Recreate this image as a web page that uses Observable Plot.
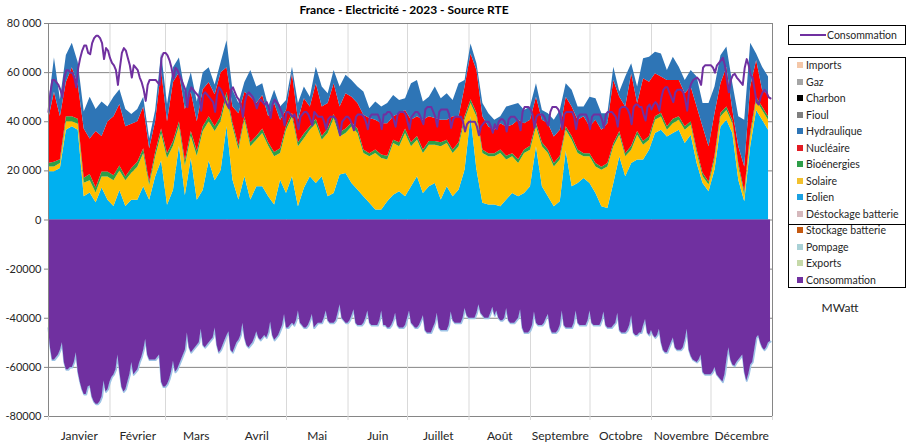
<!DOCTYPE html>
<html><head><meta charset="utf-8">
<script src="https://cdn.jsdelivr.net/npm/d3@7"></script>
<script src="https://cdn.jsdelivr.net/npm/@observablehq/plot@0.6"></script>
<style>
body{margin:0;background:#fff;font-family:Lato,"Open Sans",sans-serif;color:#262626;}
#wrap{position:relative;width:913px;height:447px;overflow:hidden;}
#chart{position:absolute;left:0;top:0;}
#title{position:absolute;top:2px;left:0;width:808px;text-align:center;font-weight:bold;font-size:12px;color:#000;}
.box{position:absolute;border:1px solid #000;background:#fff;box-sizing:border-box;}
.item{position:absolute;left:0;height:16px;line-height:16px;font-size:10.5px;white-space:nowrap;}
.sw{position:absolute;left:8px;top:5px;width:6px;height:6px;}
.lab{position:absolute;left:17px;top:0;}
#unit{position:absolute;left:810px;top:300px;width:60px;text-align:center;font-size:12px;}
</style></head><body>
<div id="wrap">
<div id="chart"></div>
<div id="title">France - Electricité - 2023 - Source RTE</div>
<div class="box" id="leg1" style="left:788px;top:25px;width:118px;height:20px;"></div>
<div class="box" id="leg2" style="left:788px;top:57px;width:118px;height:231px;"></div>
<div id="unit">MWatt</div>
</div>
<script>
// ---- Data ----
const months = ["Janvier","Février","Mars","Avril","Mai","Juin","Juillet","Août","Septembre","Octobre","Novembre","Décembre"];
const monthStarts = [0,31,59,90,120,151,181,212,243,273,304,334,365];
const yTicks = [-80000,-60000,-40000,-20000,0,20000,40000,60000,80000];

// production series sampled every 3 days (day index 0 = 1 janvier)
const days3 = d3.range(0, 364, 3);
const eolien = [
19600,19600,21000,36500,38000,36500,9500,11000,7000,13000,
8000,5500,12000,5500,8000,8000,13500,8000,17500,24000,
6000,12000,30000,10000,25000,8000,12000,24000,16000,20000,
38000,16200,8100,17600,8100,13500,13500,9500,6100,16200,
10800,17600,5400,12900,17600,14900,17600,9500,10800,18300,
18900,14900,12200,9500,6800,4100,4100,7400,10100,11500,
9500,13500,17600,10800,13500,14900,8100,13500,9500,12200,
20300,42000,20300,6800,6100,6100,5400,8100,10800,9500,
10800,13500,29800,13500,9500,5400,7400,28000,13500,14900,
16900,14900,10800,5400,4700,14900,25700,17600,23000,24400,
24400,28400,35200,36500,33800,35200,36500,31100,34500,23000,
14900,11500,20300,37900,40600,35200,16200,7400,29800,44600,
40600,36500];
const solaire = [
2000,2000,2000,3500,2000,2500,5500,5000,4000,4500,
9500,10500,8000,10500,11000,13500,13500,6000,8000,11000,
19000,18000,8000,12000,9000,18000,24000,16000,20000,20000,
12000,21700,20300,23000,21700,19000,21700,20500,19600,10900,
25700,24300,24400,20200,18900,24300,14900,25700,30500,15500,
16300,23000,23000,17600,18900,23000,20900,17000,21000,18300,
25700,16300,14900,16300,16900,15500,21700,17600,17600,17600,
20300,5400,21600,20300,19600,19600,21700,16300,14900,13500,
16300,14900,8100,16300,17600,16200,17000,8500,19000,12200,
8800,10800,10800,14900,16900,14900,8800,8100,5400,10100,
6000,4100,5400,5400,2700,4000,4100,5400,4100,4100,
2700,2700,4100,4000,4000,4000,5400,2700,4000,4100,
4000,4100];
const bioenergies = [
1400,1900,1500,2000,2000,2000,2000,2500,2000,2000,
2000,2000,2000,1500,2000,2000,2000,1500,2000,2000,
2000,2000,2000,2000,2000,2000,2000,2000,2000,2000,
2000,1600,1600,1400,1700,1500,1800,1500,1800,1900,
1500,1600,1700,1900,1500,1800,1500,1800,1700,1700,
1800,1600,1800,1400,1300,1400,1500,1600,1400,1700,
1800,1700,1500,1400,1600,1600,1700,1400,1400,1700,
1400,1600,1600,1400,1300,1300,1400,1600,1300,1500,
1400,1600,1600,1700,1400,1400,1600,1500,1500,1400,
1300,1300,1400,1200,1400,1200,1500,1300,1600,1500,
1600,1500,1400,1600,1500,1800,1400,1500,1400,1400,
1400,1300,1600,1600,1400,1300,1400,1400,1700,1300,
1400,1400];
const nucleaire = [
17600,28500,17500,14000,20000,14000,20000,14500,23000,14500,
20500,24000,25000,20500,18000,16500,17000,13500,12500,24000,
13000,24000,20000,21000,16000,12000,15000,14000,13000,18000,
10000,6500,13300,10000,18500,13400,13700,10500,19900,11600,
6600,16000,9100,14400,8000,14500,12000,10400,12500,10500,
14400,10500,10400,14100,14300,12100,12700,13200,9500,11800,
7600,9100,8000,12100,10000,9300,9100,8100,13500,10500,
12100,18600,17400,13500,10900,9500,10700,11900,11600,16100,
10700,10600,10500,9100,10700,10800,10500,12000,12000,12100,
15000,10900,17600,15000,16200,25800,14000,19000,29500,11400,
25500,22100,17500,14700,18800,15800,14800,13400,14100,17500,
18900,14300,17300,12000,16200,4100,6800,10100,18600,14900,
6800,8700];
const hydraulique = [
5400,14000,7000,11000,10000,9000,7000,17000,9000,14000,
6000,8000,6000,7000,4000,5000,4000,4000,4500,7000,
7000,6000,6000,7000,8000,8000,7000,6000,4000,4000,
11000,6800,4100,4000,10900,6700,4800,4000,5400,5400,
4100,2700,6800,4700,4000,6700,8100,4000,5400,8100,
7500,6800,6700,9500,4000,7400,6800,8200,8700,5400,
4800,14900,14800,7400,8000,12800,8800,10800,6700,13500,
2700,4100,2700,5400,5400,4100,2800,8100,8100,6800,
5400,5400,5500,4000,4100,6800,8100,5500,6800,5400,
4000,12100,8800,6800,4100,5400,2100,12200,4100,6700,
8100,10200,8800,9400,4100,9500,5400,5400,6800,12200,
9500,17600,10800,11400,8200,10900,12200,19000,17900,2700,
9400,7500];

// daily consumption (MW), 1 janvier -> 31 décembre
const consommation = [
44000,52000,57000,57000,56000,55000,53000,
50000,58000,61000,61000,60000,60000,58000,
54000,62000,66000,69000,71000,71000,68000,
67500,72000,74000,75000,75000,74000,72000,
65500,70000,69000,66000,64000,63000,61000,
55000,62000,68000,70000,69000,66000,63000,
58000,63000,62000,61000,58000,56000,53000,
48500,55000,57000,57000,57000,57000,56000,
55000,66000,68000,68000,67000,65000,62000,
57500,62000,61000,59000,57000,55000,53000,
46000,52000,54000,53000,52000,51000,50000,
44500,51000,52000,51000,50000,49000,48000,
44000,51000,54000,53000,51000,49000,47000,
45500,53000,54000,52000,50000,49000,47000,
42000,48000,51000,52000,51000,50000,48000,
45500,48000,49000,48000,47000,48000,46000,
41500,47000,49000,48000,47000,45000,43000,
38500,44000,44000,43000,42000,43000,41000,
37000,42000,43000,44000,44000,43000,41000,
38500,44000,43000,42000,42000,42000,40000,
37000,41000,42000,42000,42000,41000,38000,
34500,40000,41000,42000,42000,41000,39000,
36500,42000,43000,43000,43000,42000,40000,
37000,42000,43000,43000,43000,43000,41000,
37000,43000,43000,44000,44000,43000,41000,
38000,43000,44000,44000,44000,43000,40000,
37000,42000,43000,44000,44000,43000,41000,
39000,45000,46000,46000,46000,44000,42000,
38000,44000,45000,45000,45000,45000,43000,
37500,41000,42000,42000,42000,42000,40000,
36000,39000,40000,40000,40000,40000,38000,
34500,38000,39000,40000,40000,40000,38000,
35500,39000,37000,40000,41000,41000,40000,
36000,41000,42000,42000,42000,41000,40000,
36500,44000,46000,46000,46000,45000,43000,
37500,42000,43000,43000,43000,42000,40000,
38500,44000,46000,46000,46000,45000,43000,
37000,43000,44000,44000,44000,44000,42000,
37000,42000,43000,43000,43000,43000,41000,
37000,42000,43000,43000,43000,43000,41000,
37500,43000,44000,44000,44000,43000,42000,
38000,45000,46000,46000,46000,45000,43000,
39000,46000,47000,47000,46000,46000,43000,
40500,46000,47000,45000,47000,48000,47000,
44500,50000,53000,54000,54000,52000,50000,
48000,52000,53000,53000,53000,52000,49000,
44500,53000,55500,57000,57500,58000,57000,
55000,62000,63000,63000,63000,63000,62000,
60000,63000,64000,65000,66000,63000,57000,
52000,57000,59000,59500,58000,57000,56000,
55000,62000,65500,63000,59000,58000,53000,
48000,47000,50000,52000,53000,52000,50000,
49500];

// ---- Legend entries ----
const posSeries = ["Eolien","Solaire","Bioénergies","Nucléaire","Hydraulique"];
const posColors = ["#00B0F0","#FFC000","#2E9E48","#FF0000","#2E75B6"];
const legendNames = ["Imports","Gaz","Charbon","Fioul","Hydraulique","Nucléaire","Bioénergies","Solaire","Eolien","Déstockage batterie","Stockage batterie","Pompage","Exports","Consommation"];
const legendColors = ["#F4C7A8","#A5A5A5","#000000","#7F7F7F","#2E75B6","#E31B23","#2E9E48","#F2C12E","#1BA1E2","#D5B8BC","#C55A11","#A9D1D6","#C5D9A8","#7030A0"];

// ---- Build ----
const series = {"Eolien": eolien, "Solaire": solaire, "Bioénergies": bioenergies, "Nucléaire": nucleaire, "Hydraulique": hydraulique};
const stackData = posSeries.flatMap(s => days3.map((d, i) => ({day: d, serie: s, value: series[s][i]})));
const consData = consommation.map((v, i) => ({day: i, value: v}));
const midMonths = months.map((m, i) => (monthStarts[i] + monthStarts[i + 1]) / 2);
const fmtY = d => d > 0 ? d3.format(",")(d).replace(/,/g, " ") : String(d);

const chart = Plot.plot({
  width: 913, height: 447,
  marginLeft: 48, marginRight: 141, marginTop: 23, marginBottom: 31,
  x: {domain: [0, 365], axis: null},
  y: {domain: [-80000, 80000], axis: null},
  color: {domain: posSeries, range: posColors},
  style: {fontFamily: "Lato, 'Open Sans', sans-serif", fontSize: "11px", color: "#262626", background: "#fff"},
  marks: [
    Plot.ruleY(yTicks, {stroke: "#868686", strokeWidth: 1}),
    Plot.ruleX(monthStarts.slice(1, -1), {stroke: "#d9d9d9"}),
    Plot.areaY(stackData, {x: "day", y: "value", fill: "serie", order: posSeries, curve: "linear"}),
    Plot.lineY(consData, {x: "day", y: d => -d.value, stroke: "#9DC3E6", strokeWidth: 2}),
    Plot.areaY(consData, {x: "day", y: d => -d.value, fill: "#7030A0"}),
    Plot.lineY(consData, {x: "day", y: "value", stroke: "#7030A0", strokeWidth: 2}),
    Plot.frame({stroke: "#868686"}),
    Plot.axisY({ticks: yTicks, tickFormat: fmtY, tickSize: 4, tickPadding: 3, stroke: "#868686", fontSize: 11, label: null}),
    Plot.axisX({ticks: monthStarts, tickSize: 4, tickFormat: () => "", stroke: "#d9d9d9", label: null}),
    Plot.axisX({ticks: midMonths, tickSize: 0, tickPadding: 15, tickFormat: d => months[midMonths.indexOf(d)], fontSize: 12, label: null})
  ]
});
document.getElementById("chart").appendChild(chart);

// legend 1 (line)
const leg1 = document.getElementById("leg1");
leg1.innerHTML = '<svg width="26" height="4" style="position:absolute;left:11px;top:7px"><line x1="0" y1="2" x2="26" y2="2" stroke="#7030A0" stroke-width="2"/></svg>' +
  '<span style="position:absolute;left:38px;top:1px;font-size:10.5px;line-height:16px">Consommation</span>';
// legend 2 (areas)
const leg2 = document.getElementById("leg2");
legendNames.forEach((n, i) => {
  const cy = 8 + i * 16.5 - 1;
  const div = document.createElement("div");
  div.className = "item";
  div.style.top = (cy - 8) + "px";
  div.innerHTML = `<span class="sw" style="background:${legendColors[i]}"></span><span class="lab">${n}</span>`;
  leg2.appendChild(div);
});
const sep = document.createElement("div");
sep.style.cssText = "position:absolute;left:0;right:0;top:165.5px;border-top:1px solid #000;";
leg2.appendChild(sep);
</script>
</body></html>
